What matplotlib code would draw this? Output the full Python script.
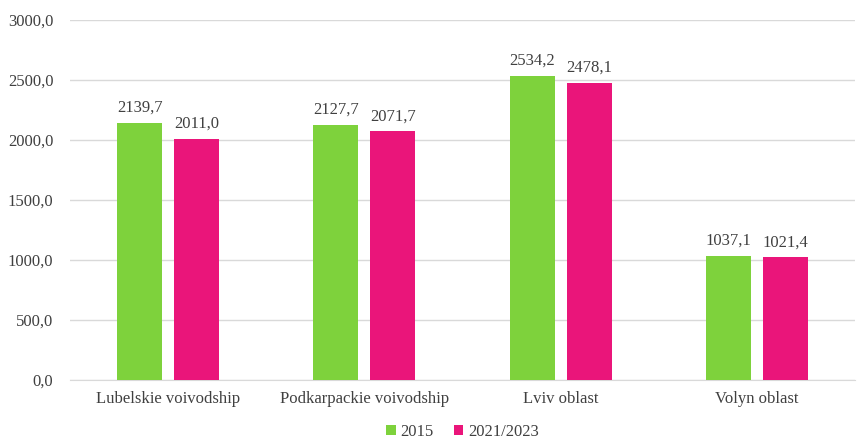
import numpy as np
import matplotlib.pyplot as plt
from matplotlib.ticker import FuncFormatter

regions = ["Lubelskie voivodship", "Podkarpackie voivodship", "Lviv oblast", "Volyn oblast"]
values_2015 = [2139.7, 2127.7, 2534.2, 1037.1]
values_2021 = [2011.0, 2071.7, 2478.1, 1021.4]
series_names = ["2015", "2021/2023"]

green = "#7ED23C"
pink = "#EA157A"

plt.rcParams['font.family'] = ['Liberation Serif', 'DejaVu Serif']

fig = plt.figure(figsize=(8.58, 4.41), dpi=100)
ax = fig.add_axes([70 / 858, 61 / 441, 785 / 858, 360 / 441])

x = np.arange(len(regions))
w = 0.23
off = 0.145

b1 = ax.bar(x - off, values_2015, w, color=green, label=series_names[0], zorder=3)
b2 = ax.bar(x + off, values_2021, w, color=pink, label=series_names[1], zorder=3)

def comma(v, pos=None):
    return f"{v:.1f}".replace(".", ",")

for bars in (b1, b2):
    for r in bars:
        ax.text(r.get_x() + r.get_width() / 2, r.get_height() + 60, comma(r.get_height()),
                ha="center", va="bottom", fontsize=12, color="#404040")

ax.set_ylim(0, 3000)
ax.set_yticks(np.arange(0, 3001, 500))
ax.yaxis.set_major_formatter(FuncFormatter(comma))
ax.set_xlim(-0.5, len(regions) - 0.5)
ax.set_xticks(x)
ax.set_xticklabels(regions)
ax.tick_params(axis="both", length=0, labelsize=12, labelcolor="#404040")
ax.tick_params(axis="x", pad=8)
ax.tick_params(axis="y", pad=12)
ax.grid(axis="y", color="#D9D9D9", linewidth=1, zorder=0)
for s in ["top", "right", "left"]:
    ax.spines[s].set_visible(False)
ax.spines["bottom"].set_color("#D9D9D9")

ax.legend(loc="center", bbox_to_anchor=(0.5, -0.145), ncol=2, frameon=False,
          fontsize=12, handlelength=0.55, handleheight=0.55, handletextpad=0.3,
          columnspacing=1.2, labelcolor="#404040")

fig.savefig("out.png", dpi=100)
